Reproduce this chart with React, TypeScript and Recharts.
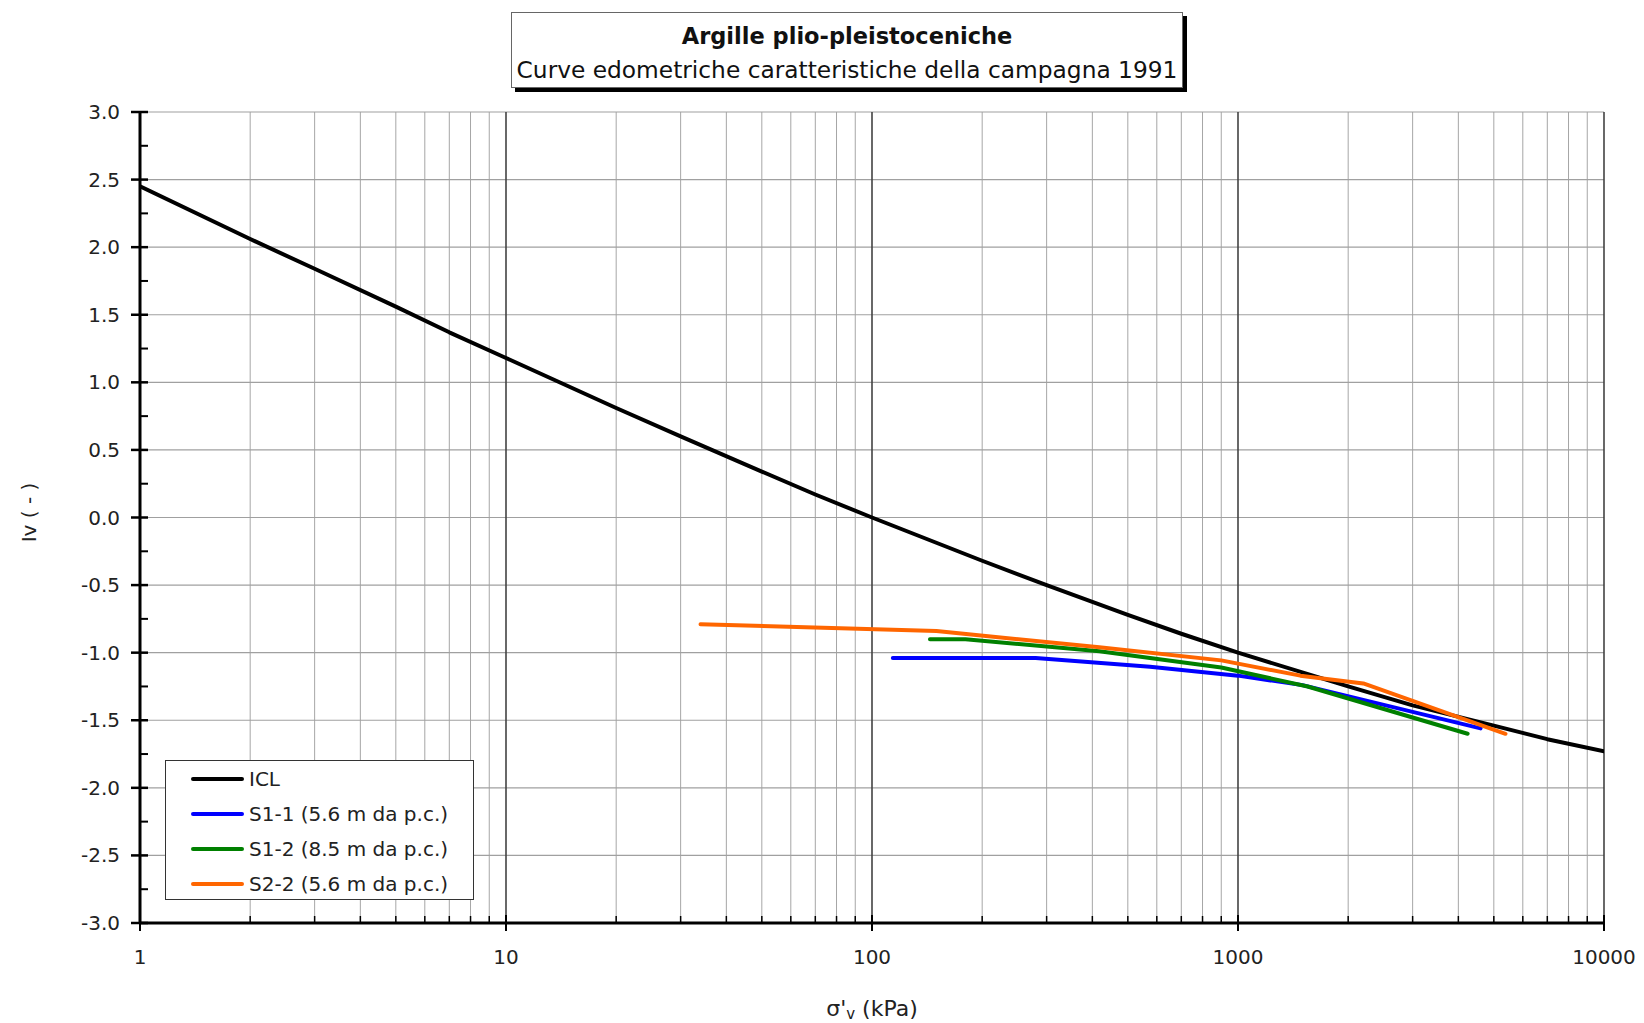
import { LineChart, Line, XAxis, YAxis, CartesianGrid, Legend, Label } from 'recharts'

const FONT = '"DejaVu Sans", sans-serif'

// sigma'v (kPa) and Iv (-)
const iclSigma = [1, 2, 3, 5, 7, 10, 20, 30, 50, 70, 100, 200, 300, 500, 700, 1000, 2000, 3000, 5000, 7000, 10000]
const iclIv = [2.45, 2.06, 1.84, 1.56, 1.37, 1.18, 0.81, 0.6, 0.34, 0.17, 0.0, -0.32, -0.5, -0.72, -0.86, -1.0, -1.25, -1.39, -1.54, -1.64, -1.73]

const s11Sigma = [114, 280, 575, 1000, 1500, 4600]
const s11Iv = [-1.04, -1.04, -1.105, -1.17, -1.24, -1.56]

const s12Sigma = [144, 180, 418, 900, 1550, 4240]
const s12Iv = [-0.9, -0.9, -0.99, -1.11, -1.25, -1.6]

const s22Sigma = [34, 150, 418, 900, 1480, 2200, 5380]
const s22Iv = [-0.79, -0.84, -0.96, -1.057, -1.17, -1.228, -1.6]

const decadeTicks = [10, 100, 1000, 10000]
const logTicks = [
  1, 2, 3, 4, 5, 6, 7, 8, 9,
  10, 20, 30, 40, 50, 60, 70, 80, 90,
  100, 200, 300, 400, 500, 600, 700, 800, 900,
  1000, 2000, 3000, 4000, 5000, 6000, 7000, 8000, 9000,
  10000
]
const ivTicks = [3, 2.75, 2.5, 2.25, 2, 1.75, 1.5, 1.25, 1, 0.75, 0.5, 0.25, 0, -0.25, -0.5, -0.75, -1, -1.25, -1.5, -1.75, -2, -2.25, -2.5, -2.75, -3]
const ivGridTicks = [3, 2.5, 2, 1.5, 1, 0.5, 0, -0.5, -1, -1.5, -2, -2.5, -3]

const series = [
  { name: 'ICL', color: '#000000', sigma: iclSigma, iv: iclIv },
  { name: 'S1-1 (5.6 m da p.c.)', color: '#0000ff', sigma: s11Sigma, iv: s11Iv },
  { name: 'S1-2 (8.5 m da p.c.)', color: '#008000', sigma: s12Sigma, iv: s12Iv },
  { name: 'S2-2 (5.6 m da p.c.)', color: '#ff6600', sigma: s22Sigma, iv: s22Iv }
]

const toPoints = (sigma: number[], iv: number[]) => sigma.map((x, i) => ({ x, y: iv[i] }))

const isDecade = (v: number) => Math.abs(Math.log10(v) - Math.round(Math.log10(v))) < 1e-9

function XTick(props: any) {
  const { x, y, payload } = props
  const v = payload.value
  if (isDecade(v)) {
    return (
      <g>
        <line x1={x} x2={x} y1={y - 8} y2={y + 8} stroke="#000" strokeWidth={2} />
        <text x={x} y={y + 34} textAnchor="middle" dominantBaseline="central" fontSize={20} fill="#222" fontFamily={FONT}>
          {v}
        </text>
      </g>
    )
  }
  return <line x1={x} x2={x} y1={y - 7} y2={y} stroke="#000" strokeWidth={1.5} />
}

function YTick(props: any) {
  const { x, y, payload } = props
  const v = payload.value
  const major = Math.abs(v * 2 - Math.round(v * 2)) < 1e-9
  if (major) {
    return (
      <g>
        <line x1={x - 9} x2={x + 8} y1={y} y2={y} stroke="#000" strokeWidth={2.5} />
        <text x={x - 20} y={y} textAnchor="end" dominantBaseline="central" fontSize={20} fill="#222" fontFamily={FONT}>
          {v.toFixed(1)}
        </text>
      </g>
    )
  }
  return <line x1={x} x2={x + 8} y1={y} y2={y} stroke="#000" strokeWidth={2} />
}

function XAxisTitle(props: any) {
  const { viewBox } = props
  const cx = viewBox.x + viewBox.width / 2
  const cy = viewBox.y + 85
  return (
    <text x={cx} y={cy} textAnchor="middle" dominantBaseline="central" fontSize={22} fill="#222" fontFamily={FONT}>
      <tspan>σ'</tspan>
      <tspan dy={6} fontSize={15}>v</tspan>
      <tspan dy={-6}> (kPa)</tspan>
    </text>
  )
}

function YAxisTitle(props: any) {
  const { viewBox } = props
  const cx = viewBox.x + 29
  const cy = viewBox.y + viewBox.height / 2 - 5
  return (
    <text
      x={cx}
      y={cy}
      transform={`rotate(-90, ${cx}, ${cy})`}
      textAnchor="middle"
      dominantBaseline="central"
      fontSize={20}
      fill="#222"
      fontFamily={FONT}
    >
      Iv ( - )
    </text>
  )
}

function LegendBox() {
  return (
    <div
      style={{
        width: 309,
        height: 140,
        boxSizing: 'border-box',
        border: '1.5px solid #333',
        background: '#fff',
        fontFamily: FONT,
        fontSize: 20,
        color: '#222'
      }}
    >
      {series.map((s) => (
        <div key={s.name} style={{ display: 'flex', alignItems: 'center', height: 35 }}>
          <span style={{ display: 'inline-block', width: 53, height: 4, marginLeft: 25, background: s.color, borderRadius: 2 }} />
          <span style={{ marginLeft: 5, lineHeight: '20px' }}>{s.name}</span>
        </div>
      ))}
    </div>
  )
}

export default function App() {
  return (
    <div style={{ position: 'absolute', left: 0, top: 0, width: 1644, height: 1023, background: '#fff' }}>
      {/* title box with drop shadow */}
      <div
        style={{
          position: 'absolute',
          left: 511,
          top: 12,
          width: 672,
          height: 76,
          boxSizing: 'border-box',
          border: '1px solid #666',
          boxShadow: '4px 4px 0 #000',
          background: '#fff',
          fontFamily: FONT,
          color: '#111',
          textAlign: 'center',
          zIndex: 2
        }}
      >
        <div style={{ fontWeight: 'bold', fontSize: 22.5, marginTop: 10, lineHeight: '26px' }}>Argille plio-pleistoceniche</div>
        <div style={{ fontSize: 23.3, marginTop: 7, lineHeight: '28px' }}>
          Curve edometriche caratteristiche della campagna 1991
        </div>
      </div>

      <LineChart width={1644} height={1023} margin={{ top: 112, right: 40, left: 0, bottom: 0 }}>
        <CartesianGrid horizontal={false} stroke="#a6a6a6" strokeWidth={1} />
        <CartesianGrid vertical={false} horizontalValues={ivGridTicks} stroke="#a0a0a0" strokeWidth={1.2} />
        <CartesianGrid xAxisId="dec" horizontal={false} stroke="#222" strokeWidth={1.2} />

        <XAxis
          dataKey="x"
          type="number"
          scale="log"
          domain={[1, 10000]}
          allowDataOverflow
          ticks={logTicks}
          interval={0}
          tick={XTick}
          tickSize={0}
          tickMargin={0}
          tickLine={false}
          axisLine={{ stroke: '#000', strokeWidth: 3 }}
          height={100}
        >
          <Label content={XAxisTitle} />
        </XAxis>
        <XAxis
          xAxisId="dec"
          dataKey="x"
          type="number"
          scale="log"
          domain={[1, 10000]}
          allowDataOverflow
          ticks={decadeTicks}
          interval={0}
          hide
        />
        <YAxis
          type="number"
          domain={[-3, 3]}
          allowDataOverflow
          ticks={ivTicks}
          interval={0}
          tick={YTick}
          tickSize={0}
          tickMargin={0}
          tickLine={false}
          axisLine={{ stroke: '#000', strokeWidth: 3 }}
          width={140}
        >
          <Label content={YAxisTitle} />
        </YAxis>

        {series.map((s) => (
          <Line
            key={s.name}
            name={s.name}
            data={toPoints(s.sigma, s.iv)}
            dataKey="y"
            type="linear"
            stroke={s.color}
            strokeWidth={4}
            strokeLinecap="round"
            strokeLinejoin="round"
            dot={false}
            activeDot={false}
            isAnimationActive={false}
          />
        ))}

        <Legend
          layout="vertical"
          verticalAlign="middle"
          align="center"
          content={LegendBox}
          wrapperStyle={{ left: 165, top: 760, width: 309, height: 140 }}
        />
      </LineChart>
    </div>
  )
}
